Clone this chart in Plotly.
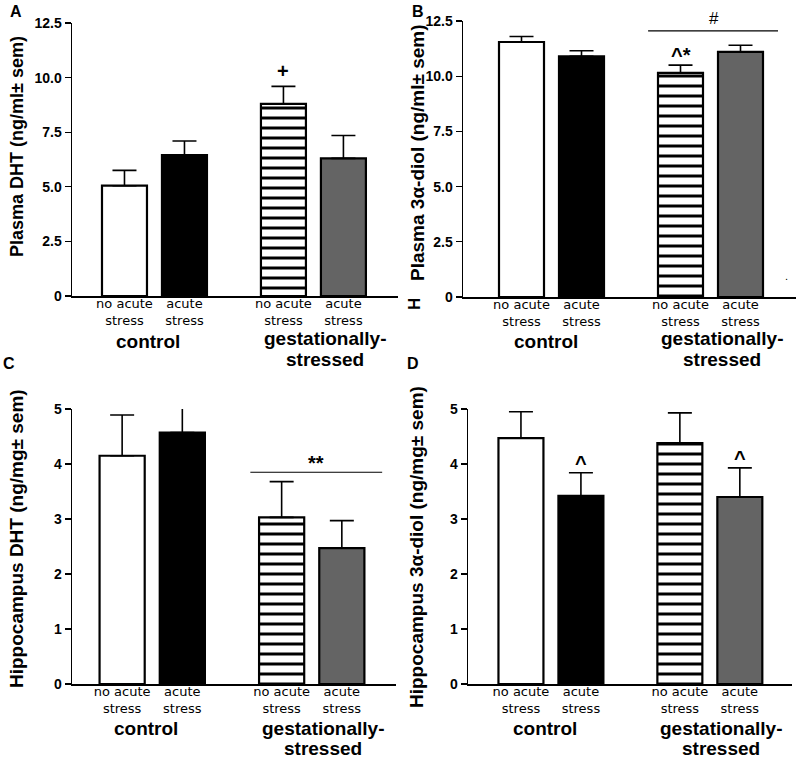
import plotly.graph_objects as go

W, H = 796, 766

# ---------------- data ----------------
categories = ["no acute<br>stress", "acute<br>stress", "no acute<br>stress", "acute<br>stress"]
group_labels = ["control", "gestationally-<br>stressed"]
positions = [1, 2, 3.65, 4.65]

plasma_dht = [5.05, 6.45, 8.8, 6.3]
plasma_dht_sem = [0.7, 0.65, 0.8, 1.05]
plasma_diol = [11.55, 10.9, 10.15, 11.1]
plasma_diol_sem = [0.25, 0.25, 0.35, 0.3]
hippo_dht = [4.15, 4.57, 3.03, 2.47]
hippo_dht_sem = [0.74, 0.48, 0.65, 0.5]
hippo_diol = [4.47, 3.42, 4.38, 3.40]
hippo_diol_sem = [0.48, 0.42, 0.55, 0.53]

plasma_tickvals = [0, 2.5, 5, 7.5, 10, 12.5]
plasma_ticktext = ["0", "2.5", "5.0", "7.5", "10.0", "12.5"]
hippo_tickvals = [0, 1, 2, 3, 4, 5]
hippo_ticktext = ["0", "1", "2", "3", "4", "5"]

titles = ["Plasma DHT (ng/ml± sem)", "Plasma 3α-diol (ng/ml± sem)",
          "Hippocampus DHT (ng/mg± sem)", "Hippocampus 3α-diol (ng/mg± sem)"]
panel_letters = ["A", "B", "C", "D"]

# ---------------- styling ----------------
FONT = "Arial, Liberation Sans, sans-serif"
WIDE = "DejaVu Sans, Verdana, sans-serif"
bar_colors = ["white", "black", "white", "#646464"]
hatched = [False, False, True, False]


def px(x):
    return x / W


def py(y):
    return 1 - y / H


panels = [
    dict(vals=plasma_dht, sem=plasma_dht_sem, xd=(72, 398), yd=(23, 296), xr=(0.125, 5.56),
         yr=(0, 12.5), tv=plasma_tickvals, tt=plasma_ticktext, title=(17, 147), tsize=18,
         letter=(16, 11), ctrl_y=341, gest_y=339),
    dict(vals=plasma_diol, sem=plasma_diol_sem, xd=(463, 796), yd=(21, 297), xr=(0.025, 5.575),
         yr=(0, 12.5), tv=plasma_tickvals, tt=plasma_ticktext, title=(418, 153), tsize=19,
         letter=(418, 12), ctrl_y=341, gest_y=339),
    dict(vals=hippo_dht, sem=hippo_dht_sem, xd=(72, 396), yd=(409, 684), xr=(0.167, 5.55),
         yr=(0, 5), tv=hippo_tickvals, tt=hippo_ticktext, title=(16, 539), tsize=19,
         letter=(9, 364), ctrl_y=728, gest_y=728),
    dict(vals=hippo_diol, sem=hippo_diol_sem, xd=(468, 792), yd=(409, 684), xr=(0.117, 5.52),
         yr=(0, 5), tv=hippo_tickvals, tt=hippo_ticktext, title=(416, 547), tsize=19,
         letter=(413, 364), ctrl_y=728, gest_y=728),
]

fig = go.Figure()
annotations = []
shapes = []

for i, p in enumerate(panels):
    sfx = "" if i == 0 else str(i + 1)
    for j in range(4):
        pattern = (dict(shape="-", fgcolor="black", bgcolor="white", size=10,
                        solidity=0.3, fillmode="replace") if hatched[j] else dict(shape=""))
        fig.add_trace(go.Bar(
            x=[positions[j]], y=[p["vals"][j]], width=0.75,
            xaxis="x" + sfx, yaxis="y" + sfx,
            marker=dict(color=bar_colors[j], line=dict(color="black", width=2.2),
                        pattern=pattern),
            error_y=dict(type="data", symmetric=False, array=[p["sem"][j]], arrayminus=[0],
                         color="black", thickness=1.6, width=12),
            showlegend=False, hoverinfo="skip",
        ))
    fig.layout["xaxis" + sfx] = dict(
        domain=[px(p["xd"][0]), min(1, px(p["xd"][1]))], range=list(p["xr"]),
        anchor="y" + sfx, showline=True, linecolor="black", linewidth=1.5,
        tickvals=positions, ticktext=categories, ticks="", showgrid=False, zeroline=False,
        tickfont=dict(family=WIDE, size=13, color="black"), ticklabelstandoff=-5,
        automargin=False, fixedrange=True,
    )
    fig.layout["yaxis" + sfx] = dict(
        domain=[py(p["yd"][1]), py(p["yd"][0])], range=list(p["yr"]),
        anchor="x" + sfx, showline=True, linecolor="black", linewidth=1.5,
        tickvals=p["tv"], ticktext=p["tt"], ticks="outside", ticklen=6, tickwidth=1.2,
        tickcolor="black", showgrid=False, zeroline=False,
        tickfont=dict(family=FONT, size=14, color="black", weight="bold"),
        automargin=False, fixedrange=True,
    )
    annotations.append(dict(
        text=titles[i], xref="paper", yref="paper", x=px(p["title"][0]), y=py(p["title"][1]),
        textangle=-90, showarrow=False, xanchor="center", yanchor="middle",
        font=dict(family=FONT, size=p["tsize"], color="black", weight="bold")))
    annotations.append(dict(
        text=panel_letters[i], xref="paper", yref="paper", x=px(p["letter"][0]),
        y=py(p["letter"][1]), showarrow=False, xanchor="center", yanchor="middle",
        font=dict(family=FONT, size=16, color="black", weight="bold")))
    annotations.append(dict(
        text=group_labels[0], xref="x" + sfx, yref="paper", x=1.4, y=py(p["ctrl_y"]),
        showarrow=False, xanchor="center", yanchor="middle", borderpad=0,
        font=dict(family=FONT, size=19, color="black", weight="bold")))
    for li, line in enumerate(group_labels[1].split("<br>")):
        annotations.append(dict(
            text=line, xref="x" + sfx, yref="paper", x=4.34, y=py(p["gest_y"] + 20 * li),
            showarrow=False, xanchor="center", yanchor="middle", borderpad=0,
            font=dict(family=FONT, size=19, color="black", weight="bold")))

MARK = dict(family=FONT, size=20, color="black", weight="bold")
# significance markers
annotations.append(dict(text="+", xref="x", yref="y", x=positions[2],
                        y=plasma_dht[2] + plasma_dht_sem[2], yanchor="bottom",
                        showarrow=False, font=MARK, yshift=2))
annotations.append(dict(text="^*", xref="x2", yref="y2", x=positions[2],
                        y=plasma_diol[2] + plasma_diol_sem[2], yanchor="bottom",
                        showarrow=False, font=MARK, yshift=-3))
annotations.append(dict(text="#", xref="x2", yref="y2", x=4.2, y=12.05, yanchor="bottom",
                        showarrow=False, font=dict(family=FONT, size=17, color="black"), yshift=1))
shapes.append(dict(type="line", xref="x2", yref="y2", x0=3.11, x1=5.275, y0=12.05, y1=12.05,
                   line=dict(color="black", width=1.2)))
annotations.append(dict(text="**", xref="x3", yref="y3", x=4.22, y=3.85, yanchor="bottom",
                        showarrow=False, font=MARK, yshift=-4))
shapes.append(dict(type="line", xref="x3", yref="y3", x0=3.13, x1=5.32, y0=3.85, y1=3.85,
                   line=dict(color="black", width=1.2)))
for k in (1, 3):
    annotations.append(dict(text="^", xref="x4", yref="y4", x=positions[k],
                            y=hippo_diol[k] + hippo_diol_sem[k], yanchor="bottom",
                            showarrow=False, font=MARK, yshift=-3))

# stray marks of the original figure
annotations.append(dict(text="H", xref="paper", yref="paper", x=px(414), y=py(304),
                        textangle=-90, showarrow=False,
                        font=dict(family=FONT, size=17, color="black", weight="bold")))
annotations.append(dict(text=".", xref="paper", yref="paper", x=px(790), y=py(276),
                        showarrow=False, font=dict(family=FONT, size=11, color="black")))

fig.update_layout(
    width=W, height=H, margin=dict(l=0, r=0, t=0, b=0, autoexpand=False),
    paper_bgcolor="white", plot_bgcolor="white",
    annotations=annotations, shapes=shapes, barmode="overlay",
)

fig.write_html("out.html", config={"displayModeBar": False, "staticPlot": True},
               post_script="document.body.style.margin='0';document.body.style.overflow='hidden';")
